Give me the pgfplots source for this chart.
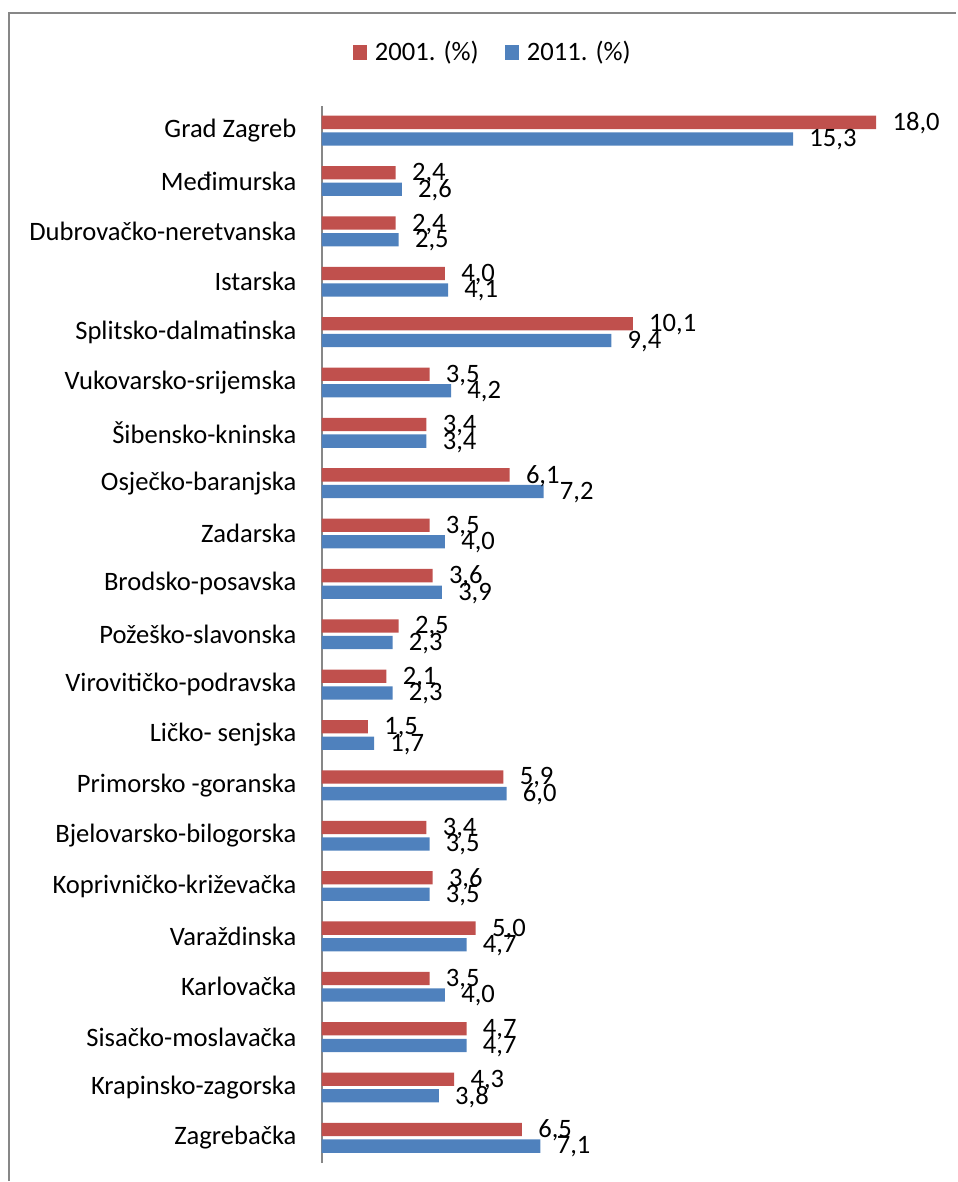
\documentclass[border=0pt]{standalone}
\usepackage{fontspec}
\setmainfont{Carlito}
\usepackage{pgfplots}
\pgfplotsset{compat=1.18}
\definecolor{cred}{HTML}{C0504D}
\definecolor{cblue}{HTML}{4F81BD}
\definecolor{frame}{HTML}{878787}
\begin{document}
\begin{tikzpicture}
\path (0,0) rectangle (478.5pt,591pt);
\draw[frame, line width=1pt] (4.5pt,0) -- (4.5pt,584.25pt) -- (478.5pt,584.25pt);
\begin{axis}[
  at={(161pt,9pt)}, anchor=south west,
  scale only axis,
  width=308.3pt, height=529.2pt,
  xmin=0, xmax=20, ymin=-0.5, ymax=20.5,
  clip=false,
  xbar, bar width=6.65pt,
  axis x line=none,
  axis y line=left,
  axis line style={-, frame, line width=0.8pt},
  ytick={0,...,20},
  major tick length=0pt,
  yticklabels={Zagrebačka, Krapinsko-zagorska, Sisačko-moslavačka, Karlovačka, Varaždinska, Koprivničko-križevačka, Bjelovarsko-bilogorska, Primorsko -goranska, Ličko- senjska, Virovitičko-podravska, Požeško-slavonska, Brodsko-posavska, Zadarska, Osječko-baranjska, Šibensko-kninska, Vukovarsko-srijemska, Splitsko-dalmatinska, Istarska, Dubrovačko-neretvanska, Međimurska, Grad Zagreb},
  yticklabel style={inner sep=0pt, xshift=-12.5pt, font=\fontsize{13.3}{15}\selectfont},
  nodes near coords,
  nodes near coords style={font=\fontsize{13.3}{15}\selectfont,
    /pgf/number format/fixed, /pgf/number format/fixed zerofill,
    /pgf/number format/precision=1, /pgf/number format/use comma,
    /pgf/number format/assume math mode=true,
    xshift=7pt, yshift=-0.5pt, inner sep=1pt, text=black},
  legend style={at={(0.279,1.05)}, anchor=center, draw=none, legend columns=2,
    font=\fontsize{13.3}{15}\selectfont,
    /tikz/every odd column/.append style={column sep=2pt},
    /tikz/every even column/.append style={column sep=11pt},
    inner sep=0pt},
  legend image code/.code={\fill[#1] (0pt,-3.6pt) rectangle (7.2pt,3.6pt);},
]
\addplot[fill=cred, draw=none, bar shift=4.15pt] coordinates {
(6.5,0) (4.3,1) (4.7,2) (3.5,3) (5.0,4) (3.6,5) (3.4,6) (5.9,7) (1.5,8) (2.1,9) (2.5,10)
(3.6,11) (3.5,12) (6.1,13) (3.4,14) (3.5,15) (10.1,16) (4.0,17) (2.4,18) (2.4,19) (18.0,20)};
\addlegendentry{2001. (\%)}
\addplot[fill=cblue, draw=none, bar shift=-4.15pt] coordinates {
(7.1,0) (3.8,1) (4.7,2) (4.0,3) (4.7,4) (3.5,5) (3.5,6) (6.0,7) (1.7,8) (2.3,9) (2.3,10)
(3.9,11) (4.0,12) (7.2,13) (3.4,14) (4.2,15) (9.4,16) (4.1,17) (2.5,18) (2.6,19) (15.3,20)};
\addlegendentry{2011. (\%)}
\end{axis}
\end{tikzpicture}
\end{document}
